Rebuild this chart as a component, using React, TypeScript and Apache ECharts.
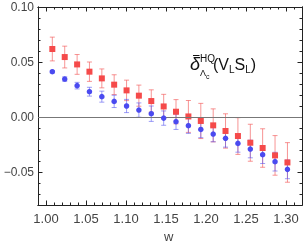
import React, { useEffect, useRef } from "react";
import * as echarts from "echarts";

const wValues = [1.0079, 1.0234, 1.0389, 1.0543, 1.0698, 1.0852, 1.1007, 1.1161, 1.1316, 1.1471, 1.1625, 1.178, 1.1935, 1.209, 1.2244, 1.2399, 1.2554, 1.2708, 1.2863, 1.3018];
const redValues = [0.0618, 0.0545, 0.0478, 0.0412, 0.0351, 0.0294, 0.0242, 0.0194, 0.0145, 0.0096, 0.0048, 0.0005, -0.0036, -0.0076, -0.0127, -0.0173, -0.0234, -0.0282, -0.0349, -0.0413];
const redErrors = [0.0108, 0.0099, 0.009, 0.0088, 0.0086, 0.009, 0.0093, 0.0096, 0.0102, 0.011, 0.011, 0.0145, 0.016, 0.015, 0.0156, 0.0167, 0.0168, 0.0175, 0.018, 0.018];
const blueValues = [0.0412, 0.0345, 0.0285, 0.023, 0.0185, 0.0142, 0.01, 0.0063, 0.003, -0.001, -0.0043, -0.0079, -0.0113, -0.0155, -0.0194, -0.024, -0.0291, -0.0343, -0.0406, -0.0476];
const blueErrors = [0.001, 0.002, 0.003, 0.004, 0.005, 0.0056, 0.006, 0.0065, 0.007, 0.0065, 0.007, 0.007, 0.0075, 0.007, 0.008, 0.008, 0.008, 0.008, 0.0085, 0.0085];

const xMajorTicks = [1.0, 1.05, 1.1, 1.15, 1.2, 1.25, 1.3];
const xMinorTicks = [0.99, 1.0, 1.01, 1.02, 1.03, 1.04, 1.05, 1.06, 1.07, 1.08, 1.09, 1.1, 1.11, 1.12, 1.13, 1.14, 1.15, 1.16, 1.17, 1.18, 1.19, 1.2, 1.21, 1.22, 1.23, 1.24, 1.25, 1.26, 1.27, 1.28, 1.29, 1.3, 1.31, 1.32];
const yMajorTicks = [-0.05, 0.0, 0.05, 0.1];
const yMinorTicks = [-0.08, -0.07, -0.06, -0.05, -0.04, -0.03, -0.02, -0.01, 0.0, 0.01, 0.02, 0.03, 0.04, 0.05, 0.06, 0.07, 0.08, 0.09, 0.1];

const X_MIN = 0.99, X_MAX = 1.32, Y_MIN = -0.08, Y_MAX = 0.1;
const RED = "#f54a4a";
const BLUE = "#4a4af0";

function fmt(v: number) {
  return v.toFixed(2).replace("-", "\u2212");
}

function errorSeries(vals: number[], errs: number[], color: string, z: number) {
  return {
    type: "custom",
    xAxisIndex: 0,
    yAxisIndex: 0,
    z,
    data: wValues.map((w, i) => [w, vals[i], errs[i]]),
    encode: { x: 0, y: 1 },
    renderItem: (params: any, api: any) => {
      const x = api.value(0), y = api.value(1), e = api.value(2);
      const top = api.coord([x, y + e]);
      const bot = api.coord([x, y - e]);
      const half = 2.5;
      const style = { stroke: color, lineWidth: 1 };
      return {
        type: "group",
        children: [
          { type: "line", shape: { x1: top[0], y1: top[1], x2: bot[0], y2: bot[1] }, style },
          { type: "line", shape: { x1: top[0] - half, y1: top[1], x2: top[0] + half, y2: top[1] }, style },
          { type: "line", shape: { x1: bot[0] - half, y1: bot[1], x2: bot[0] + half, y2: bot[1] }, style },
        ],
      };
    },
  };
}

function xAxis(position: string, ticks: number[], len: number, labels: boolean) {
  return {
    type: "value",
    position,
    min: X_MIN,
    max: X_MAX,
    axisLine: { show: true, onZero: false, lineStyle: { color: "#222", width: 1 } },
    axisTick: { show: true, inside: true, length: len, customValues: ticks, lineStyle: { color: "#222", width: 1 } },
    axisLabel: labels
      ? { show: true, customValues: xMajorTicks, formatter: fmt, color: "#444", fontSize: 13, fontFamily: "Liberation Sans", margin: 7 }
      : { show: false },
    splitLine: { show: false },
  };
}

function yAxis(position: string, ticks: number[], len: number, labels: boolean) {
  return {
    type: "value",
    position,
    min: Y_MIN,
    max: Y_MAX,
    axisLine: { show: true, onZero: false, lineStyle: { color: "#222", width: 1 } },
    axisTick: { show: true, inside: true, length: len, customValues: ticks, lineStyle: { color: "#222", width: 1 } },
    axisLabel: labels
      ? { show: true, customValues: yMajorTicks, formatter: fmt, color: "#444", fontSize: 12, fontFamily: "Liberation Sans", margin: 4 }
      : { show: false },
    splitLine: { show: false },
  };
}

export default function App() {
  const ref = useRef<HTMLDivElement>(null);
  useEffect(() => {
    if (!ref.current) return;
    const chart = echarts.init(ref.current, null, { renderer: "svg" });
    chart.setOption({
      animation: false,
      grid: { left: 38, top: 7, right: 2, bottom: 41, containLabel: false },
      xAxis: [
        xAxis("bottom", xMajorTicks, 4.5, true),
        xAxis("bottom", xMinorTicks, 2.5, false),
        xAxis("top", xMajorTicks, 4.5, false),
        xAxis("top", xMinorTicks, 2.5, false),
      ],
      yAxis: [
        yAxis("left", yMajorTicks, 4.5, true),
        yAxis("left", yMinorTicks, 2.5, false),
        yAxis("right", yMajorTicks, 4.5, false),
        yAxis("right", yMinorTicks, 2.5, false),
      ],
      series: [
        {
          type: "line",
          xAxisIndex: 0,
          yAxisIndex: 0,
          data: [],
          z: 1,
          markLine: {
            silent: true,
            symbol: "none",
            label: { show: false },
            lineStyle: { color: "#777", width: 1, type: "solid" },
            data: [{ yAxis: 0 }],
          },
        },
        errorSeries(redValues, redErrors, "rgba(242,90,90,0.65)", 2),
        errorSeries(blueValues, blueErrors, "rgba(90,90,240,0.6)", 3),
        {
          type: "scatter",
          xAxisIndex: 0,
          yAxisIndex: 0,
          z: 4,
          symbol: "rect",
          symbolSize: 6,
          itemStyle: { color: RED, opacity: 1 },
          data: wValues.map((w, i) => [w, redValues[i]]),
        },
        {
          type: "scatter",
          xAxisIndex: 0,
          yAxisIndex: 0,
          z: 5,
          symbol: "circle",
          symbolSize: 5.5,
          itemStyle: { color: BLUE, opacity: 1 },
          data: wValues.map((w, i) => [w, blueValues[i]]),
        },
      ],
      graphic: [
        {
          type: "text",
          left: 164,
          top: 230,
          style: { text: "w", fontSize: 13, fontFamily: "Liberation Sans", fill: "#444" },
        },
        {
          type: "text",
          x: 190,
          y: 64,
          style: { text: "\u03b4", fontSize: 18, fontStyle: "italic", fontFamily: "Liberation Sans", fill: "#111", verticalAlign: "middle" },
        },
        {
          type: "line",
          shape: { x1: 193, y1: 55.5, x2: 199.5, y2: 55.5 },
          style: { stroke: "#111", lineWidth: 1 },
        },
        {
          type: "text",
          x: 200,
          y: 58,
          style: { text: "HQ", fontSize: 10, fontFamily: "Liberation Sans", fill: "#111", verticalAlign: "middle" },
        },
        {
          type: "text",
          x: 200,
          y: 73,
          style: { text: "\u039b", fontSize: 9, fontFamily: "Liberation Sans", fill: "#111", verticalAlign: "middle" },
        },
        {
          type: "text",
          x: 206,
          y: 76,
          style: { text: "c", fontSize: 7, fontFamily: "Liberation Sans", fill: "#111", verticalAlign: "middle" },
        },
        {
          type: "text",
          x: 213,
          y: 64,
          style: {
            text: "{m|(V}{s|L}{m|S}{s|L}{m|)}",
            verticalAlign: "middle",
            rich: {
              m: { fontSize: 16, fontFamily: "Liberation Sans", fill: "#111", lineHeight: 20, verticalAlign: "middle" },
              s: { fontSize: 10, fontFamily: "Liberation Sans", fill: "#111", lineHeight: 20, verticalAlign: "bottom" },
            },
          },
        },
      ],
    });
    return () => chart.dispose();
  }, []);
  return <div ref={ref} style={{ position: "fixed", left: 0, top: 0, width: 304, height: 246 }} />;
}
